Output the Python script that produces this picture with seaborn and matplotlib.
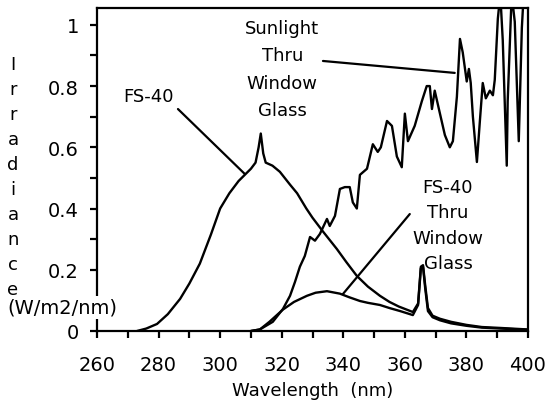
import matplotlib
matplotlib.use("Agg")
import matplotlib.pyplot as plt
import seaborn as sns
from matplotlib.ticker import MultipleLocator, FuncFormatter

# spectra (wavelength in nm, irradiance in W/m2/nm)
fs40_nm = [273, 276, 279.5, 283, 287, 290, 293.4, 297, 300, 303, 306, 308, 310,
           311.5, 312.5, 313.2, 314, 314.8, 317, 319.4, 322.7, 325, 328, 330,
           333.4, 337.9, 341, 344.4, 348, 351.9, 355, 358, 362.6, 364.3, 365.2,
           365.9, 366.6, 367.5, 369, 371.4, 375, 380, 385, 391, 400]
fs40_val = [0, 0.008, 0.023, 0.055, 0.105, 0.155, 0.22, 0.315, 0.40, 0.45, 0.49,
            0.51, 0.53, 0.55, 0.60, 0.645, 0.58, 0.55, 0.54, 0.52, 0.478, 0.45,
            0.40, 0.37, 0.325, 0.268, 0.225, 0.18, 0.145, 0.115, 0.095, 0.08,
            0.062, 0.09, 0.21, 0.215, 0.15, 0.075, 0.05, 0.04, 0.03, 0.02, 0.013,
            0.01, 0.005]

fs40_glass_nm = [310, 312.9, 316, 320.4, 324, 328.2, 331, 334.7, 338.9, 342,
                 345.4, 348, 351.9, 355, 358.5, 362.6, 364.3, 365.2, 365.9,
                 366.6, 367.5, 369, 371.4, 375, 380, 385, 391, 400]
fs40_glass_val = [0, 0.005, 0.03, 0.07, 0.095, 0.115, 0.125, 0.13, 0.122, 0.11,
                  0.098, 0.092, 0.085, 0.075, 0.065, 0.052, 0.085, 0.205, 0.21,
                  0.14, 0.065, 0.045, 0.035, 0.025, 0.017, 0.011, 0.008, 0.004]

sun_glass_nm = [310, 312.9, 317.1, 320.4, 322.7, 324.3, 325.9, 327.5, 329.2,
                330.8, 332.4, 334.7, 335.6, 337.3, 338.9, 340.5, 342.1, 343.1,
                344.4, 345.4, 347.7, 349.6, 351.2, 352.2, 354.2, 355.8, 357.4,
                359, 360, 361, 363.2, 365.5, 367.1, 368.1, 368.8, 369.7, 371.4,
                373, 374.6, 375.6, 376.9, 377.9, 378.8, 380.1, 380.8, 381.4,
                382.1, 383.4, 384.4, 385.3, 386.3, 387.6, 388.6, 389.2, 390.2,
                391, 391.8, 393.1, 393.4, 394.7, 395.7, 396.4, 397, 398, 398.6,
                400]
sun_glass_val = [0, 0.005, 0.03, 0.072, 0.115, 0.16, 0.21, 0.245, 0.307, 0.295,
                 0.317, 0.366, 0.343, 0.376, 0.464, 0.47, 0.47, 0.42, 0.40, 0.51,
                 0.53, 0.61, 0.585, 0.60, 0.686, 0.67, 0.57, 0.535, 0.71, 0.62,
                 0.67, 0.75, 0.80, 0.80, 0.725, 0.785, 0.71, 0.64, 0.60, 0.62,
                 0.765, 0.954, 0.91, 0.815, 0.856, 0.81, 0.70, 0.552, 0.69, 0.81,
                 0.76, 0.785, 0.77, 0.82, 1.02, 1.10, 0.95, 0.54, 0.75, 1.10,
                 1.01, 0.80, 0.62, 0.99, 1.10, 1.10]

x_ticks = [260, 280, 300, 320, 340, 360, 380, 400]
y_ticks = [0, 0.2, 0.4, 0.6, 0.8, 1]
ylabel_letters = ["I", "r", "r", "a", "d", "i", "a", "n", "c", "e"]

sns.set_style("ticks")
plt.rcParams["font.family"] = ["DejaVu Sans"]
plt.rcParams["text.color"] = "black"
plt.rcParams["xtick.color"] = "black"
plt.rcParams["ytick.color"] = "black"
plt.rcParams["axes.labelcolor"] = "black"

W, H = 548, 402
fig = plt.figure(figsize=(W / 100, H / 100), dpi=100)
ax = fig.add_axes([97 / W, 1 - 332 / H, (528 - 97) / W, (332 - 9) / H])

for xs, ys in [(fs40_nm, fs40_val), (fs40_glass_nm, fs40_glass_val),
               (sun_glass_nm, sun_glass_val)]:
    sns.lineplot(x=xs, y=ys, color="black", lw=1.7, estimator=None,
                 sort=False, ax=ax)

ax.set_xlim(260, 400)
ax.set_ylim(0, 1.055)
ax.set_xticks(x_ticks)
ax.set_yticks(y_ticks)
ax.xaxis.set_minor_locator(MultipleLocator(10))
ax.yaxis.set_minor_locator(MultipleLocator(0.1))
ax.yaxis.set_major_formatter(FuncFormatter(lambda v, p: "%g" % v))
ax.tick_params(which="both", direction="out", length=5, width=1.6,
               color="black")
ax.tick_params(axis="x", which="major", labelsize=14, pad=12)
ax.tick_params(axis="y", which="major", labelsize=14, pad=8)
for s in ax.spines.values():
    s.set_linewidth(1.6)
    s.set_color("black")

ax.set_xlabel("Wavelength  (nm)", fontsize=13, labelpad=5)

# stacked y-axis label
for i, ch in enumerate(ylabel_letters):
    fig.text(13 / W, 1 - (70 + 25 * i) / H, ch, fontsize=13, ha="center",
             va="baseline", zorder=6)
fig.text(62 / W, 1 - 314 / H, "(W/m2/nm)", fontsize=14, ha="center",
         va="baseline", zorder=5,
         bbox=dict(boxstyle="square,pad=0.08", fc="white", ec="none"))

# curve labels with leader lines
ax.text(276.6, 0.768, "FS-40", fontsize=13, ha="center", va="center")
ax.annotate("", xy=(308, 0.513), xytext=(286.3, 0.725),
            arrowprops=dict(arrowstyle="-", lw=1.6, color="black",
                            shrinkA=0, shrinkB=0))

ax.text(320.2, 0.856, "Sunlight\nThru\nWindow\nGlass", fontsize=13,
        ha="center", va="center", multialignment="center", linespacing=1.67)
ax.annotate("", xy=(376.2, 0.843), xytext=(333.4, 0.882),
            arrowprops=dict(arrowstyle="-", lw=1.6, color="black",
                            shrinkA=0, shrinkB=0))

ax.text(374, 0.346, "FS-40\nThru\nWindow\nGlass", fontsize=13,
        ha="center", va="center", multialignment="center", linespacing=1.52)
ax.annotate("", xy=(339.9, 0.121), xytext=(361.6, 0.382),
            arrowprops=dict(arrowstyle="-", lw=1.6, color="black",
                            shrinkA=0, shrinkB=0))

fig.savefig("out.png", dpi=100)
